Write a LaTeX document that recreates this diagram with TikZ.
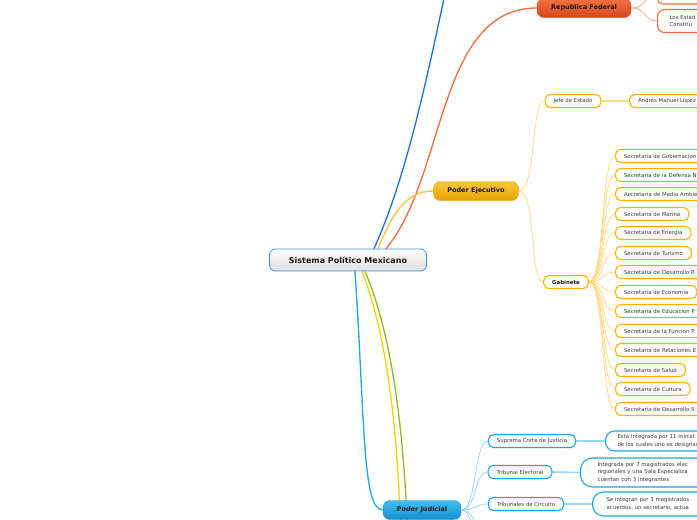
\documentclass[tikz,border=0pt]{standalone}
\usepackage{fontspec}
\setmainfont{DejaVu Sans}
\usepackage{tikz}
\usetikzlibrary{positioning,calc,backgrounds}
\definecolor{smink}     {HTML}{1A1A1A}
\definecolor{smtext}    {HTML}{3C3C3C}
\definecolor{smframe}   {HTML}{3C8DD6}
\definecolor{smredtop}  {HTML}{F2733F}
\definecolor{smredbot}  {HTML}{D4461D}
\definecolor{smred}     {HTML}{F26A3A}
\definecolor{smredsoft} {HTML}{F9A787}
\definecolor{smgoldtop} {HTML}{F9C83C}
\definecolor{smgoldbot} {HTML}{E8A200}
\definecolor{smgold}    {HTML}{FFB300}
\definecolor{smgoldsoft}{HTML}{FFDA85}
\definecolor{smskytop}  {HTML}{40BDF0}
\definecolor{smskybot}  {HTML}{1590D0}
\definecolor{smsky}     {HTML}{1AA7E8}
\definecolor{smskysoft} {HTML}{9AD7F5}
\definecolor{smnavy}    {HTML}{1E6FD9}
\definecolor{smlemon}   {HTML}{F0D400}
\definecolor{smlime}    {HTML}{8CBE1E}
\tikzset{
  smroot/.style={draw=smframe, line width=0.8pt, rounded corners=6pt,
                 top color=white, bottom color=black!12, minimum width=157pt,
                 minimum height=22pt, font=\fontsize{8}{9}\selectfont\bfseries, text=smink},
  smmain/.style={rounded corners=7pt, minimum height=19pt, inner xsep=6pt,
                 font=\fontsize{6.5}{8}\selectfont\bfseries, text=smink},
  smredmain/.style={smmain, draw=smredbot, top color=smredtop, bottom color=smredbot},
  smgoldmain/.style={smmain, draw=smgoldbot, top color=smgoldtop, bottom color=smgoldbot},
  smskymain/.style={smmain, draw=smskybot, top color=smskytop, bottom color=smskybot},
  smleaf/.style={draw, fill=white, line width=1.1pt, rounded corners=5pt, minimum height=13pt,
                 inner xsep=8.5pt, inner ysep=2pt, font=\fontsize{5.4}{7.8}\selectfont, text=smtext},
  smredleaf/.style={smleaf, draw=smred},
  smgoldleaf/.style={smleaf, draw=smgold},
  smskyleaf/.style={smleaf, draw=smsky},
  smnote/.style={smskyleaf, anchor=west, align=left, rounded corners=9pt},
  smcut/.style={text width=110pt, align=left},
  smfit/.style={},
  smtrunk/.style={line width=1.3pt},
  smtwig/.style={line width=0.8pt},
  smstem/.style={line width=1.6pt},
}

\begin{document}
\begin{tikzpicture}[x=1pt, y=-1pt]
  \useasboundingbox (0,0) rectangle (697,520);
  \clip (0,0) rectangle (697,520);

  \node[smroot] (root) at (348,260) {Sistema Político Mexicano};

  % ramas principales
  \node[smredmain, minimum width=94pt] (rep) at (584,8) {Republica Federal};
  \node[smgoldmain, minimum width=85pt] (ejec) at (476,191) {Poder Ejecutivo};
  \node[smskymain, minimum width=78pt] (jud) at (422,510) {Poder Judicial};
  \coordinate (arriba) at (452,-40);
  \coordinate (abajoA) at (401,545);
  \coordinate (abajoB) at (408,545);

  % republica federal
  \node[smredleaf, anchor=west, minimum width=60pt, minimum height=18pt] (repotro) at (657,-5) {};
  \node[smredleaf, anchor=west, text width=60pt, align=left, minimum height=23pt,
        inner xsep=12pt, rounded corners=7pt] (estados) at (657,21) {Los Estad\\Constitu};

  % poder ejecutivo
  \node[smgoldleaf] (jefe) at (573,101) {Jefe de Estado};
  \node[smgoldleaf, anchor=west, text width=90pt, align=left] (amlo) at (629,101) {Andrés Manuel López};
  \node[smgoldleaf, font=\fontsize{5.4}{7.8}\selectfont\bfseries, text=smink] (gab) at (566,282) {Gabinete};

  \foreach \y/\txt/\cut [count=\i] in {
      156/Secretaria de Gobernacion/smcut,
      175/Secretaria de la Defensa N/smcut,
      194/Aecretaria de Medio Ambie/smcut,
      214/Secretaria de Marina/smfit,
      233/Secretaria de Energia/smfit,
      253/Secretaria de Turismo/smfit,
      272/Secretaria de Desarrollo R/smcut,
      292/Secretaria de Economia/smfit,
      311/Secretaria de Educacion P/smcut,
      331/Secretaria de la Funcion P/smcut,
      350/Secretaria de Relaciones E/smcut,
      370/Secretaria de Salud/smfit,
      389/Secretaria de Cultura/smfit,
      409/Secretaria de Desarrollo S/smcut} {
    \node[smgoldleaf, anchor=west, \cut] (sec\i) at (615,\y) {\txt};
    \begin{scope}[on background layer]
      \draw[smtwig, smgoldsoft] (gab.east) .. controls +(16,0) and +(-14,0) .. (sec\i.west);
    \end{scope}
  }

  % poder judicial
  \node[smskyleaf] (corte) at (532,441) {Suprema Corte de Justicia};
  \node[smskyleaf] (electoral) at (520,472) {Tribunal Electoral};
  \node[smskyleaf] (circuito) at (526,504) {Tribunales de Circuito};
  \coordinate (judmas) at (490,540);
  \coordinate (judotro) at (490,575);
  \node[smnote, text width=120pt, minimum height=20pt, inner xsep=12pt] (cortetxt) at (605,441)
    {Está integrada por 11 minist\\de los cuales uno es designad};
  \node[smnote, text width=130pt, minimum height=29pt, inner xsep=17pt, rounded corners=12pt] (electxt) at (580,472.5)
    {Integrada por 7 magistrados elec\\regionales y una Sala Especializa\\cuentan con 3 integrantes};
  \node[smnote, text width=120pt, minimum height=24pt, inner xsep=14pt, rounded corners=11pt] (circtxt) at (592,504)
    {Se integran por 3 magistrados\\acuerdos, un secretario, actua};

  \begin{scope}[on background layer]
    \draw[smtrunk, smnavy] ($(root.north)+(26,0)$) .. controls (405,180) and (425,90) .. (arriba);
    \draw[smtrunk, smred] ($(root.north)+(38,0)$) .. controls (446,177) and (437,8) .. (rep.west);
    \draw[smtrunk, smgold!80] ($(root.north)+(30,0)$) .. controls (392,215) and (405,191) .. (ejec.west);
    \draw[smtrunk, smsky] ($(root.south)+(7,0)$) .. controls (365,420) and (362,510) .. (jud.west);
    \draw[smtrunk, smlemon] ($(root.south)+(14,0)$) .. controls (385,330) and (398,420) .. (abajoA);
    \draw[smtrunk, smlime] ($(root.south)+(17,0)$) .. controls (390,330) and (404,420) .. (abajoB);

    \draw[smtwig, smredsoft] (rep.east) .. controls +(16,0) and +(-14,0) .. (repotro.west);
    \draw[smtwig, smredsoft] (rep.east) .. controls +(16,0) and +(-14,0) .. (estados.west);

    \draw[smtwig, smgoldsoft] (ejec.east) .. controls +(18,0) and +(-14,0) .. (jefe.west);
    \draw[smtwig, smgoldsoft] (ejec.east) .. controls +(18,0) and +(-14,0) .. (gab.west);
    \draw[smstem, smgoldsoft] (jefe.east) -- (amlo.west);

    \draw[smtwig, smskysoft] (jud.east) .. controls +(16,0) and +(-14,0) .. (corte.west);
    \draw[smtwig, smskysoft] (jud.east) .. controls +(16,0) and +(-14,0) .. (electoral.west);
    \draw[smtwig, smskysoft] (jud.east) .. controls +(16,0) and +(-14,0) .. (circuito.west);
    \draw[smtwig, smskysoft] (jud.east) .. controls +(16,0) and +(-14,0) .. (judmas);
    \draw[smtwig, smskysoft] (jud.east) .. controls +(16,0) and +(-14,0) .. (judotro);
    \draw[smstem, smskysoft] (corte.east) -- (cortetxt.west);
    \draw[smstem, smskysoft] (electoral.east) -- (electxt.west);
    \draw[smstem, smskysoft] (circuito.east) -- (circtxt.west);
  \end{scope}
\end{tikzpicture}
\end{document}
